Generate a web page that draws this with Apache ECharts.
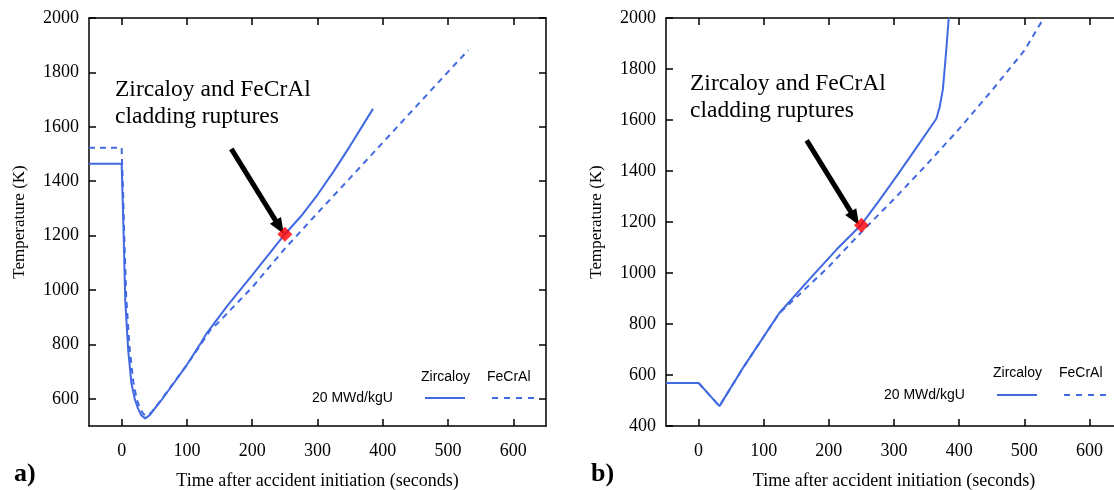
<!DOCTYPE html>
<html>
<head>
<meta charset="utf-8">
<script src="https://cdn.jsdelivr.net/npm/echarts@6/dist/echarts.min.js"></script>
<style>
html,body{margin:0;padding:0;background:#fff;overflow:hidden;}
#chart{width:1114px;height:490px;}
</style>
</head>
<body>
<div id="chart"></div>
<script>
// ---- DATA ----
const xTicks = [0, 100, 200, 300, 400, 500, 600];
const yTicksA = [600, 800, 1000, 1200, 1400, 1600, 1800, 2000];
const yTicksB = [400, 600, 800, 1000, 1200, 1400, 1600, 1800, 2000];

// Panel a) time (s), temperature (K)
const zircaloyA = [[-50,1464],[0,1464],[0.5,1420],[2,1300],[3,1208],[5.5,963],[10,780],[15,657],[20,600],[25,565],[30,540],[36,528],[43,540],[50,562],[60,592],[80,658],[100,725],[120,800],[130,840],[140,872],[163,945],[200,1055],[250,1205],[275,1272],[300,1350],[325,1437],[350,1530],[370,1608],[385,1666]];
const fecralA = [[-50,1523],[0,1523],[0.5,1480],[2,1380],[4,1200],[7,975],[12,790],[18,660],[23,600],[28,565],[33,545],[38,538],[45,548],[60,594],[80,660],[100,725],[120,795],[135,850],[150,885],[200,1010],[250,1152],[300,1283],[350,1412],[400,1542],[450,1672],[500,1802],[531,1882]];
// Panel b)
const zircaloyB = [[-50,569],[0,569],[32,478],[70,635],[124,843],[170,975],[211,1090],[249,1187],[276,1280],[300,1365],[330,1475],[365,1605],[370,1650],[375,1720],[378,1807],[381,1900],[384,2000]];
const fecralB = [[-50,569],[0,569],[32,478],[70,635],[124,843],[146,895],[200,1025],[249,1158],[300,1290],[350,1425],[400,1565],[450,1715],[500,1872],[530,2000]];

const ruptureA = [[250,1205]];
const ruptureB = [[250,1187]];
const arrowA = [[168,1519],[242,1231]];
const arrowB = [[166,1520],[240,1214]];

const annotation = ['Zircaloy and FeCrAl', 'cladding ruptures'];
const legendNames = ['Zircaloy', 'FeCrAl'];
const burnup = '20 MWd/kgU';
const xName = 'Time after accident initiation (seconds)';
const yName = 'Temperature (K)';

// ---- STYLE ----
const blue = '#4169E1';
const serif = '"Liberation Serif","Times New Roman",serif';
const sans = '"Liberation Sans",Arial,sans-serif';

function xAx(grid, pos) {
  const main = pos === 'bottom';
  return {
    type: 'value', gridIndex: grid, position: pos, min: -50, max: 650,
    name: main ? xName : '', nameLocation: 'middle', nameGap: 46,
    nameTextStyle: {fontFamily: serif, fontSize: 18, color: '#000'},
    splitLine: {show: false},
    axisLine: {show: true, onZero: false, lineStyle: {color: '#000', width: 1.5}},
    axisTick: {show: true, inside: true, length: 7, customValues: xTicks, lineStyle: {color: '#000', width: 1.5}},
    axisLabel: {show: main, customValues: xTicks, formatter: v => String(v), margin: 16, fontFamily: serif, fontSize: 18, color: '#000'}
  };
}
function yAx(grid, pos, min, ticks) {
  const main = pos === 'left';
  return {
    type: 'value', gridIndex: grid, position: pos, min: min, max: 2000,
    name: main ? yName : '', nameLocation: 'middle', nameGap: 61, nameRotate: 90,
    nameTextStyle: {fontFamily: serif, fontSize: 17, color: '#000'},
    splitLine: {show: false},
    axisLine: {show: true, onZero: false, lineStyle: {color: '#000', width: 1.5}},
    axisTick: {show: true, inside: true, length: 7, customValues: ticks, lineStyle: {color: '#000', width: 1.5}},
    axisLabel: {show: main, customValues: ticks, formatter: v => String(v), margin: 10, fontFamily: serif, fontSize: 18, color: '#000'}
  };
}
function lineSeries(data, xi, yi, dashed) {
  return {
    type: 'line', xAxisIndex: xi, yAxisIndex: yi, data: data, showSymbol: false,
    smooth: false, clip: true, z: dashed ? 3 : 4,
    lineStyle: {color: blue, width: 2, type: dashed ? [6, 5] : 'solid'}
  };
}
function arrowSeries(arr, xi, yi) {
  return {
    type: 'line', xAxisIndex: xi, yAxisIndex: yi, data: [], z: 6,
    markLine: {
      silent: true, symbol: ['none', 'triangle'], symbolSize: [13, 16],
      label: {show: false},
      lineStyle: {color: '#000', width: 5, type: 'solid'},
      data: [[{coord: arr[0]}, {coord: arr[1]}]]
    }
  };
}
function ruptureSeries(d, xi, yi) {
  return {type: 'scatter', xAxisIndex: xi, yAxisIndex: yi, data: d, symbol: 'diamond', symbolSize: 15, itemStyle: {color: '#ff0000'}, z: 7};
}
function legendGraphics(x0, yText, yLine, xB) {
  return [
    {type: 'text', left: x0, top: yText - 8, style: {text: legendNames[0], font: '14px ' + sans, fill: '#000'}},
    {type: 'text', left: x0 + 66, top: yText - 8, style: {text: legendNames[1], font: '14px ' + sans, fill: '#000'}},
    {type: 'text', left: xB, top: yLine - 7, style: {text: burnup, font: '14px ' + sans, fill: '#000'}},
    {type: 'line', shape: {x1: x0 + 4, y1: yLine, x2: x0 + 44, y2: yLine}, style: {stroke: blue, lineWidth: 2}},
    {type: 'line', shape: {x1: x0 + 71, y1: yLine, x2: x0 + 114, y2: yLine}, style: {stroke: blue, lineWidth: 2, lineDash: [6, 6]}}
  ];
}
function annot(x, y) {
  return [
    {type: 'text', left: x, top: y, style: {text: annotation[0], font: '23.5px ' + serif, fill: '#000'}},
    {type: 'text', left: x, top: y + 27, style: {text: annotation[1], font: '23.5px ' + serif, fill: '#000'}}
  ];
}

const chart = echarts.init(document.getElementById('chart'), null, {renderer: 'canvas'});
chart.setOption({
  animation: false,
  backgroundColor: '#fff',
  grid: [
    {left: 89, top: 18, width: 457, height: 408, outerBoundsMode: 'none', containLabel: false},
    {left: 666, top: 18, width: 456, height: 408, outerBoundsMode: 'none', containLabel: false}
  ],
  xAxis: [xAx(0, 'bottom'), xAx(1, 'bottom'), xAx(0, 'top'), xAx(1, 'top')],
  yAxis: [yAx(0, 'left', 500, yTicksA), yAx(1, 'left', 400, yTicksB), yAx(0, 'right', 500, yTicksA), yAx(1, 'right', 400, yTicksB)],
  series: [
    lineSeries(fecralA, 0, 0, true),
    lineSeries(zircaloyA, 0, 0, false),
    lineSeries(fecralB, 1, 1, true),
    lineSeries(zircaloyB, 1, 1, false),
    arrowSeries(arrowA, 0, 0),
    arrowSeries(arrowB, 1, 1),
    ruptureSeries(ruptureA, 0, 0),
    ruptureSeries(ruptureB, 1, 1)
  ],
  graphic: [].concat(
    annot(115, 78), annot(690, 72),
    legendGraphics(421, 378, 398, 312),
    legendGraphics(993, 374, 395, 884),
    [
      {type: 'text', left: 14, top: 461, style: {text: 'a)', font: 'bold 26px ' + serif, fill: '#000'}},
      {type: 'text', left: 591, top: 461, style: {text: 'b)', font: 'bold 26px ' + serif, fill: '#000'}}
    ]
  )
});
</script>
</body>
</html>
